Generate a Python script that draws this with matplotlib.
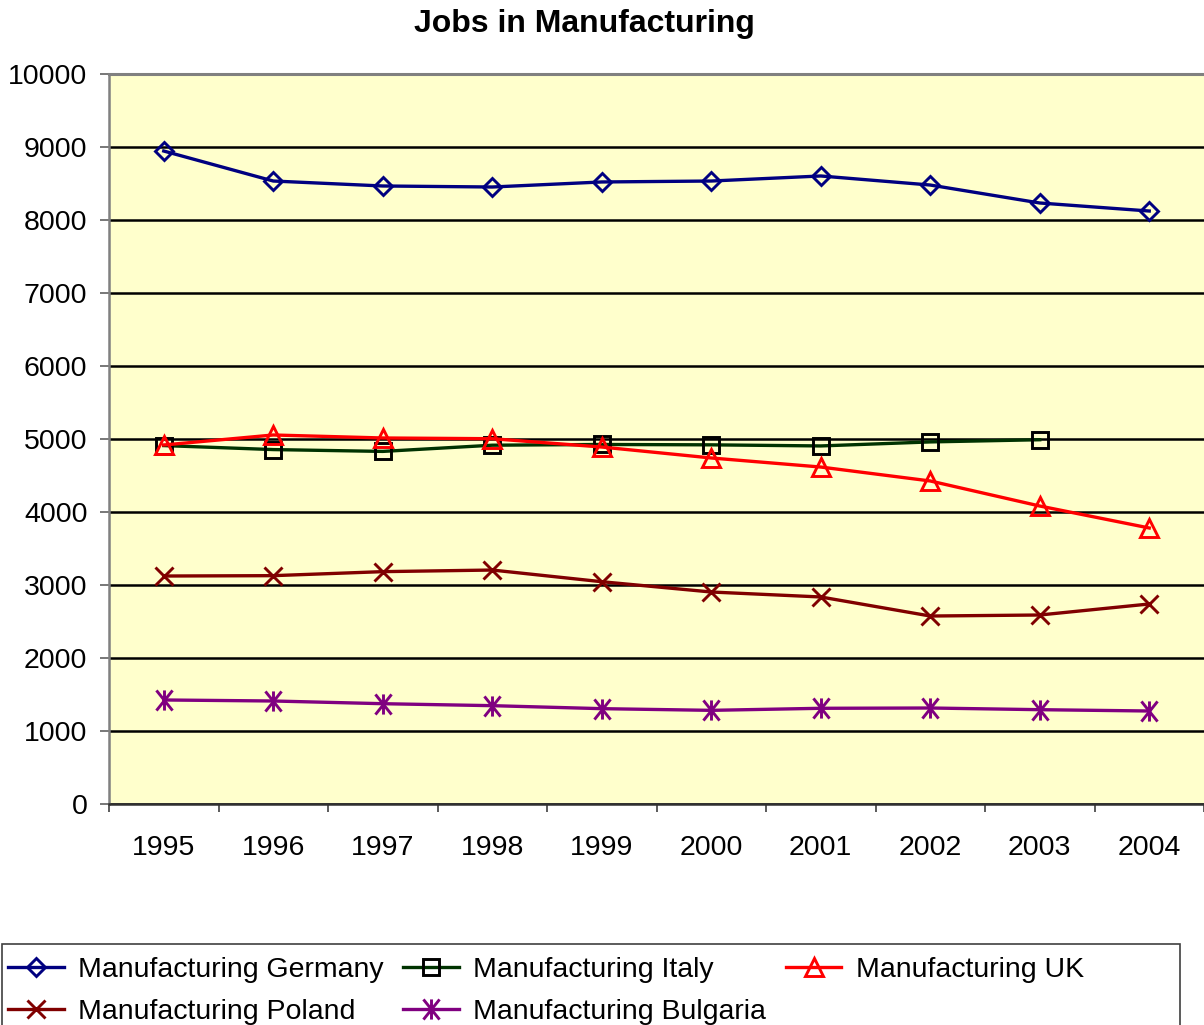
import numpy as np
import matplotlib
matplotlib.use("Agg")
import matplotlib.pyplot as plt
from matplotlib.path import Path
from matplotlib.patches import Rectangle

plt.rcParams['font.family'] = ['Liberation Sans', 'DejaVu Sans']

years = ['1995', '1996', '1997', '1998', '1999', '2000', '2001', '2002', '2003', '2004']

germany = [8945, 8534, 8466, 8452, 8521, 8534, 8603, 8479, 8233, 8123]
italy = [4910, 4855, 4830, 4915, 4925, 4920, 4905, 4960, 4990]
uk = [4918, 5055, 5014, 5004, 4890, 4740, 4616, 4425, 4082, 3781]
poland = [3123, 3128, 3183, 3205, 3045, 2904, 2836, 2575, 2589, 2740]
bulgaria = [1425, 1411, 1374, 1347, 1306, 1283, 1311, 1315, 1292, 1274]

yticks = [0, 1000, 2000, 3000, 4000, 5000, 6000, 7000, 8000, 9000, 10000]

# asterisk marker: an x crossed by a vertical bar
star = Path([(-0.8, -1), (0.8, 1), (-0.8, 1), (0.8, -1), (0, -1), (0, 1)],
            [Path.MOVETO, Path.LINETO, Path.MOVETO, Path.LINETO,
             Path.MOVETO, Path.LINETO])

W, H = 1204, 1025
fig = plt.figure(figsize=(W / 100, H / 100), dpi=100)
ax = fig.add_axes([109 / W, 1 - 804 / H, 1 - 109 / W, (804 - 74) / H])
ax.set_facecolor('#FFFFCC')

x = np.arange(len(years))
series = [
    ("Manufacturing Germany", germany, '#000080', '#000080', 'D', 9.5),
    ("Manufacturing Italy", italy, '#003300', '#000000', 's', 11.5),
    ("Manufacturing UK", uk, '#FF0000', '#FF0000', '^', 13.0),
    ("Manufacturing Poland", poland, '#800000', '#800000', 'x', 12.5),
    ("Manufacturing Bulgaria", bulgaria, '#800080', '#800080', star, 14.5),
]
lines = {}
for label, vals, lc, mc, mk, ms in series:
    ln, = ax.plot(x[:len(vals)], vals, color=lc, lw=2.4, marker=mk, ms=ms,
                  mfc='none', mec=mc, mew=2.1, label=label, zorder=3)
    lines[label] = ln

ax.set_ylim(0, 10000)
ax.set_xlim(-0.5, len(years) - 0.5)
ax.set_yticks(yticks)
ax.set_yticklabels([str(v) for v in yticks])
ax.yaxis.grid(True, color='black', lw=1.8, zorder=1)
ax.set_axisbelow(True)

# category boundaries get the tick marks, labels sit at the centres
ax.set_xticks(np.arange(-0.5, len(years), 1.0))
ax.set_xticklabels([])
ax.set_xticks(x, minor=True)
ax.set_xticklabels(years, minor=True)
ax.tick_params(axis='x', which='major', length=6, width=1.2, color='#404040')
ax.tick_params(axis='x', which='minor', length=0, pad=22, labelsize=20.5)
ax.tick_params(axis='y', length=6.5, width=1.2, color='#606060', pad=9,
               labelsize=20.5)

ax.spines['right'].set_visible(False)
ax.spines['top'].set_color('#808080')
ax.spines['top'].set_linewidth(2.2)
ax.spines['left'].set_color('#808080')
ax.spines['left'].set_linewidth(1.8)
ax.spines['bottom'].set_color('#303030')
ax.spines['bottom'].set_linewidth(1.8)

fig.text(584 / W, 1 - 24 / H, "Jobs in Manufacturing", ha='center',
         va='center', fontsize=23, fontweight='bold')

# legend fills column by column, so order the entries to read row-wise
order = ["Manufacturing Germany", "Manufacturing Poland", "Manufacturing Italy",
         "Manufacturing Bulgaria", "Manufacturing UK"]
fig.legend([lines[k] for k in order], order, loc='upper left',
           bbox_to_anchor=(8 / W, 1 - 957 / H), ncol=3,
           frameon=False, fontsize=20.5, borderpad=0, borderaxespad=0,
           handlelength=1.95, handletextpad=0.5, columnspacing=0.7,
           labelspacing=0.55)
fig.patches.append(Rectangle((2 / W, -0.02), (1180 - 2) / W, 0.02 + 1 - 944 / H,
                             transform=fig.transFigure, fill=False,
                             edgecolor='#404040', lw=1.2))

fig.savefig("out.png", dpi=100)
